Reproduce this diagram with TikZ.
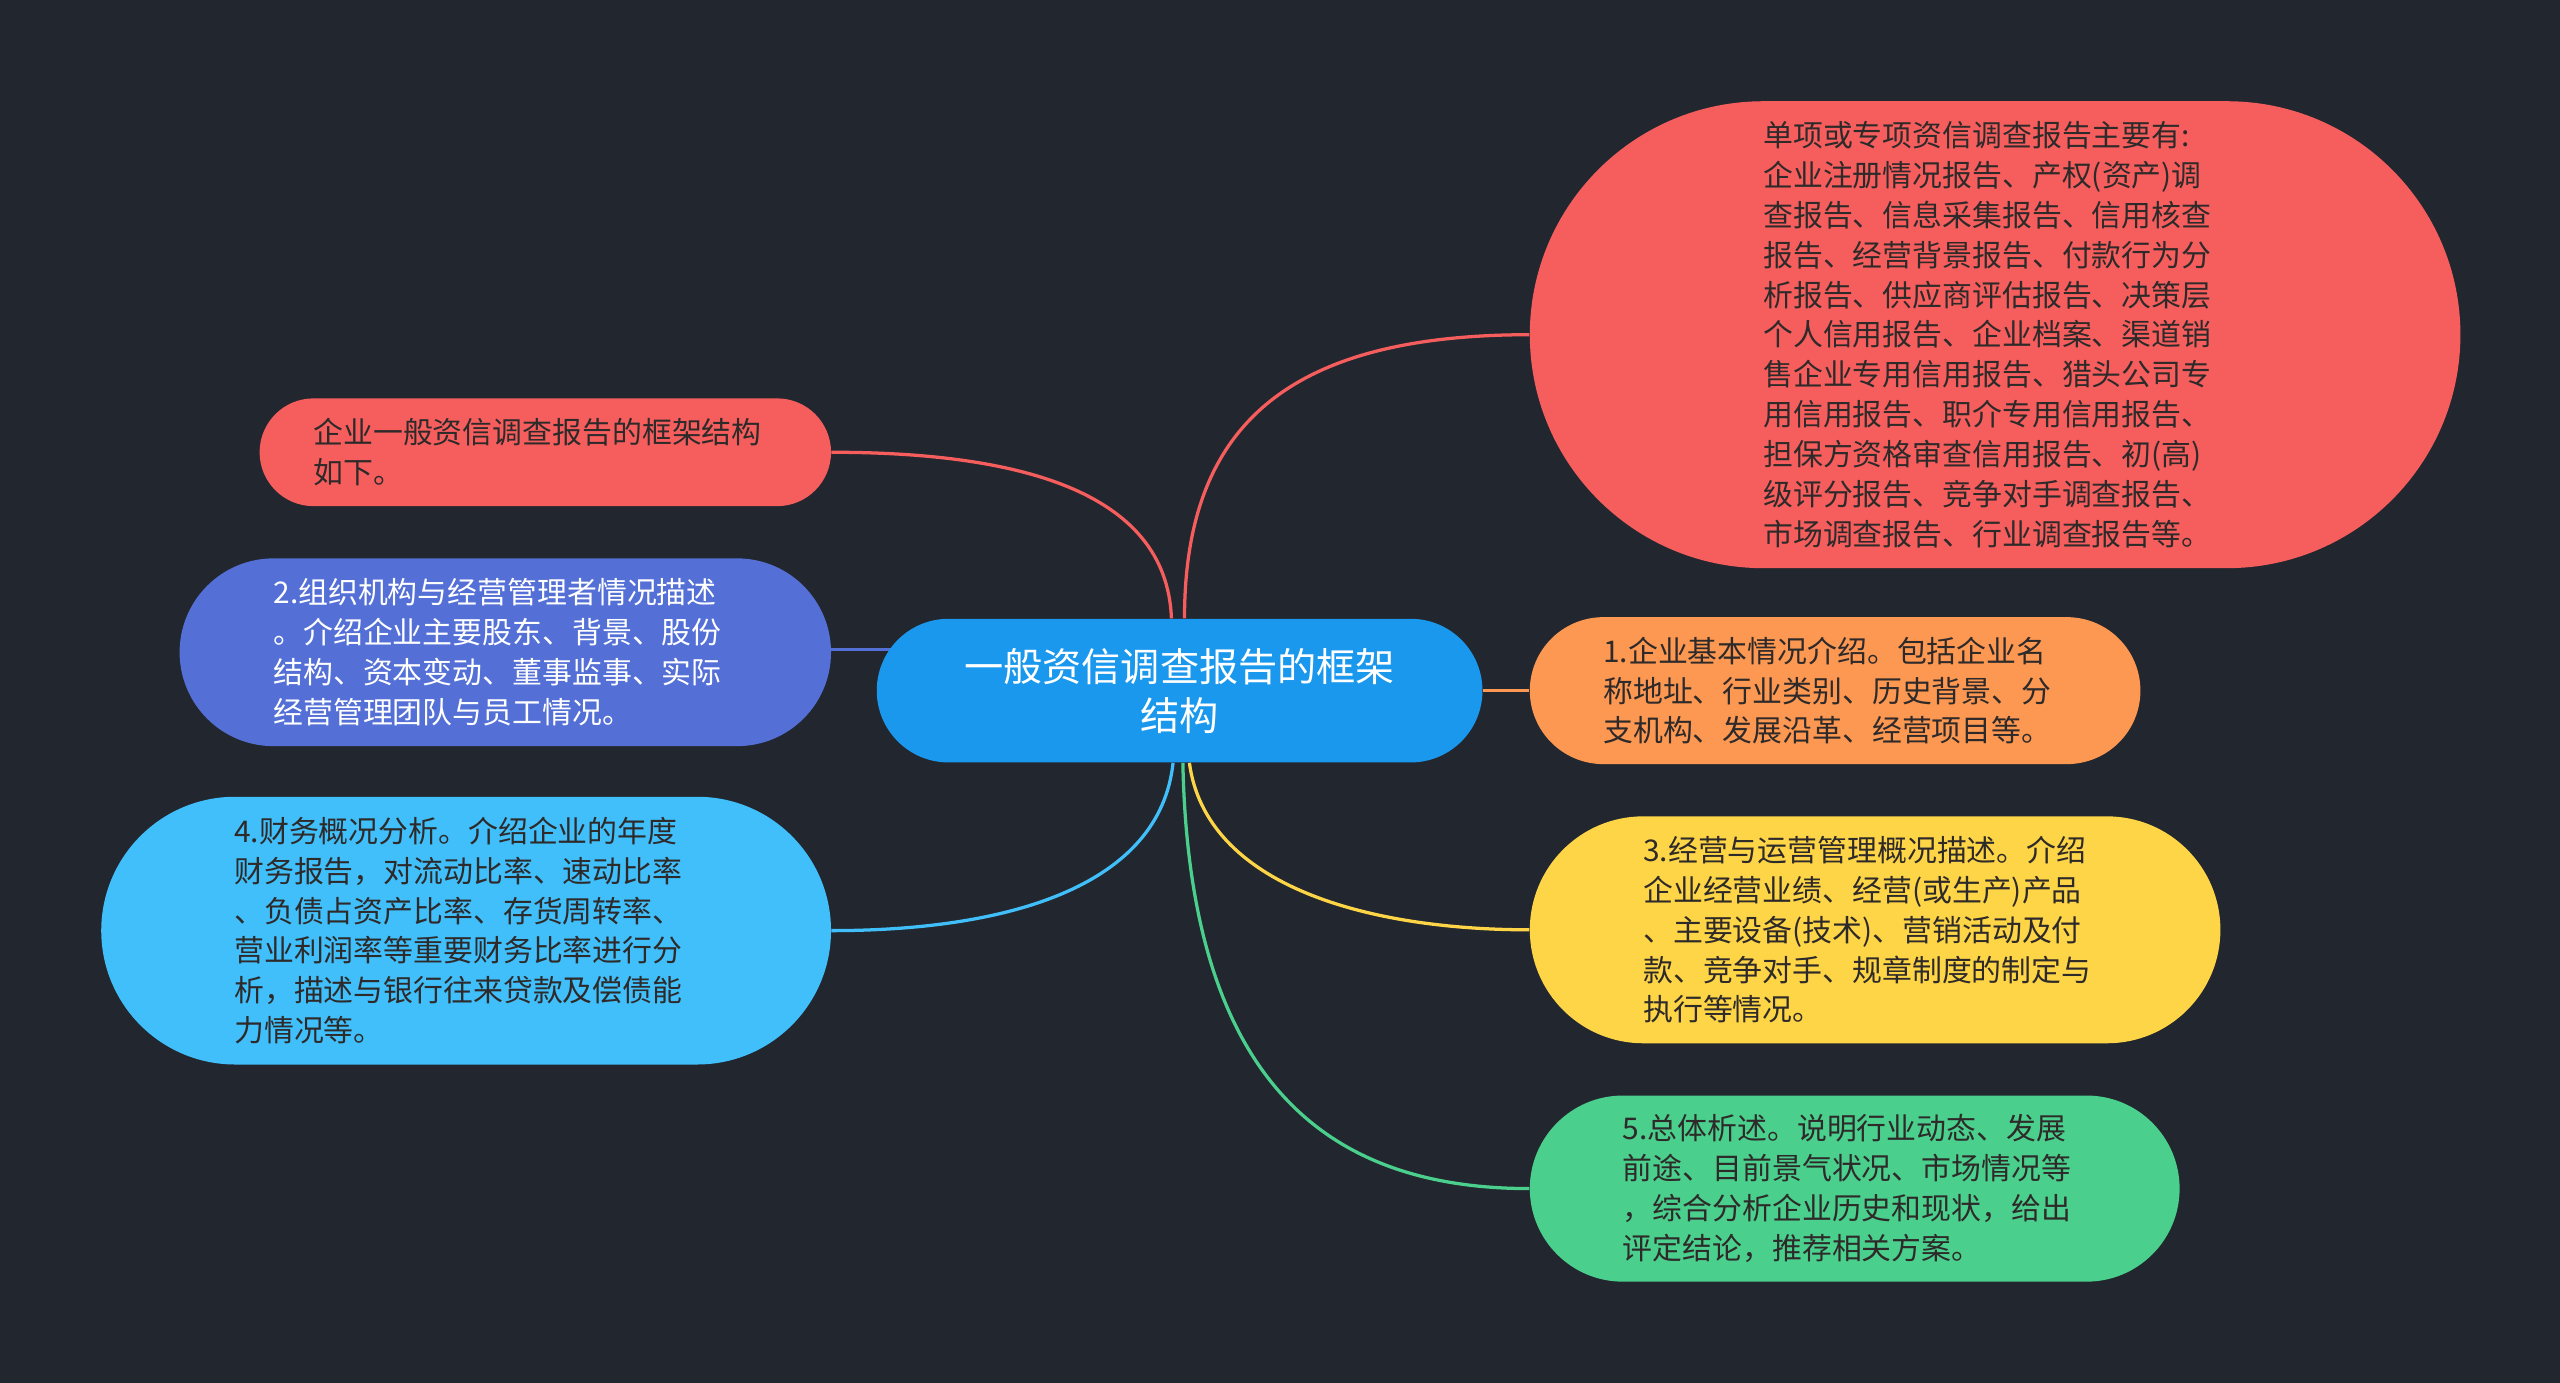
\documentclass[tikz,border=0pt]{standalone}
\usepackage{fontspec}
\newfontfamily\cjk{Noto Sans CJK SC}
\usetikzlibrary{backgrounds}
\definecolor{bgc}{HTML}{22262F}
\definecolor{cred}{HTML}{F65E5E}
\definecolor{cblue}{HTML}{5470D6}
\definecolor{clblue}{HTML}{40BFFA}
\definecolor{ccent}{HTML}{1A98EE}
\definecolor{corange}{HTML}{FD9852}
\definecolor{cyellow}{HTML}{FED546}
\definecolor{cgreen}{HTML}{4ACF8C}
\definecolor{dtext}{HTML}{2E2A2A}
\tikzset{
  pill/.style={draw=none, inner sep=0pt, align=left, text=dtext, text width=284pt,
    font=\cjk\fontsize{18.3}{24.4}\selectfont},
  conn/.style={line width=2pt},
}
\begin{document}
\begin{tikzpicture}[x=1pt,y=-1pt]
\useasboundingbox (0,0) rectangle (1568,847);

\node[pill, fill=cred, minimum width=570, minimum height=286, rounded corners=143] (r1) at (1222,205)
{单项或专项资信调查报告主要有:\\企业注册情况报告、产权(资产)调\\查报告、信息采集报告、信用核查\\报告、经营背景报告、付款行为分\\析报告、供应商评估报告、决策层\\个人信用报告、企业档案、渠道销\\售企业专用信用报告、猎头公司专\\用信用报告、职介专用信用报告、\\担保方资格审查信用报告、初(高)\\级评分报告、竞争对手调查报告、\\市场调查报告、行业调查报告等。};

\node[pill, fill=cred, minimum width=350, minimum height=66, rounded corners=33] (r2) at (334,277)
{企业一般资信调查报告的框架结构\\如下。};

\node[pill, fill=cblue, text=white, minimum width=399, minimum height=115, rounded corners=57.5] (b) at (309.5,399.5)
{2.组织机构与经营管理者情况描述\\。介绍企业主要股东、背景、股份\\结构、资本变动、董事监事、实际\\经营管理团队与员工情况。};

\node[pill, fill=clblue, minimum width=447, minimum height=164, rounded corners=82] (lb) at (285.5,570)
{4.财务概况分析。介绍企业的年度\\财务报告，对流动比率、速动比率\\、负债占资产比率、存货周转率、\\营业利润率等重要财务比率进行分\\析，描述与银行往来贷款及偿债能\\力情况等。};

\node[pill, fill=ccent, text=white, align=center, text width=300pt, minimum width=371, minimum height=88, rounded corners=44,
  font=\cjk\fontsize{24}{30}\selectfont] (c) at (722.5,423)
{一般资信调查报告的框架\\结构};

\node[pill, fill=corange, minimum width=374, minimum height=90, rounded corners=45] (o) at (1124,423)
{1.企业基本情况介绍。包括企业名\\称地址、行业类别、历史背景、分\\支机构、发展沿革、经营项目等。};

\node[pill, fill=cyellow, minimum width=423, minimum height=139, rounded corners=69.5] (y) at (1148.5,569.5)
{3.经营与运营管理概况描述。介绍\\企业经营业绩、经营(或生产)产品\\、主要设备(技术)、营销活动及付\\款、竞争对手、规章制度的制定与\\执行等情况。};

\node[pill, fill=cgreen, minimum width=398, minimum height=114, rounded corners=57] (g) at (1136,728)
{5.总体析述。说明行业动态、发展\\前途、目前景气状况、市场情况等\\，综合分析企业历史和现状，给出\\评定结论，推荐相关方案。};

\begin{pgfonlayer}{background}
\fill[bgc] (0,0) rectangle (1568,847);
\draw[conn, cred] ([xshift=3pt]c.north) .. controls +(0,-119) and +(-147,0) .. (r1.west);
\draw[conn, cred] ([xshift=-5pt]c.north) .. controls +(-3,-80) and +(110,0) .. (r2.east);
\draw[conn, cblue] ([yshift=1.5pt]b.east) -- ([yshift=1.5pt]b.east -| c.center);
\draw[conn, clblue] ([xshift=-4pt]c.south) .. controls +(-8,75) and +(110,0) .. (lb.east);
\draw[conn, corange] (c.east) -- (o.west);
\draw[conn, cyellow] ([xshift=6pt]c.south) .. controls +(10,75) and +(-100,0) .. (y.west);
\draw[conn, cgreen] ([xshift=2pt]c.south) .. controls +(4,200) and +(-120,0) .. (g.west);
\end{pgfonlayer}
\end{tikzpicture}
\end{document}
